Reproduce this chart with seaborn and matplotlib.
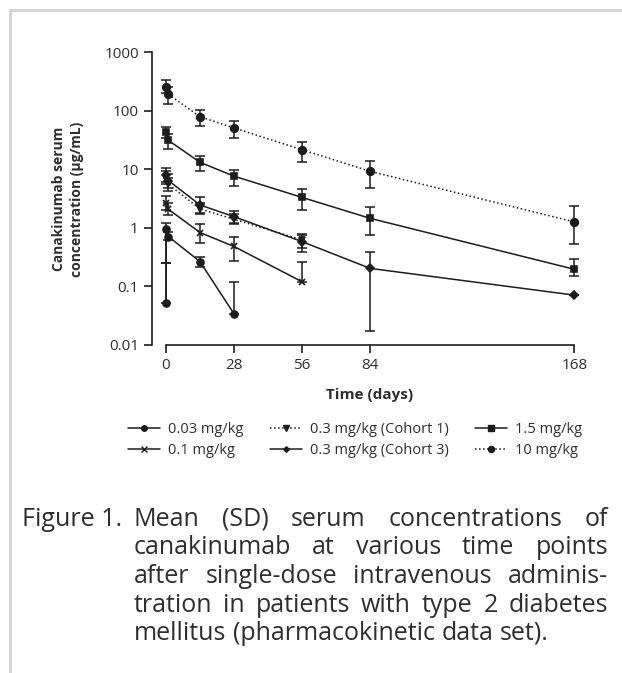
import numpy as np
import pandas as pd
import matplotlib
matplotlib.use('Agg')
import matplotlib.pyplot as plt
from matplotlib.lines import Line2D
from matplotlib.ticker import FixedLocator, FuncFormatter, NullLocator
import seaborn as sns

## values (mean, lower / upper end of the SD bar)
t_003 = [0, 0.1, 1, 14, 28]
c_003 = [0.052, 0.94, 0.71, 0.264, 0.034]
lo_003 = [0.052, 0.25, 0.62, 0.217, 0.034]
hi_003 = [0.25, 1.2, 0.85, 0.32, 0.12]

t_01 = [0, 1, 14, 28, 56]
c_01 = [2.6, 2.07, 0.83, 0.48, 0.12]
lo_01 = [2.0, 1.65, 0.54, 0.275, 0.12]
hi_01 = [3.5, 2.6, 1.15, 0.69, 0.26]

t_03c1 = [0, 1, 14, 28, 56]
c_03c1 = [7.2, 5.5, 2.1, 1.4, 0.62]
lo_03c1 = [5.5, 4.3, 1.7, 1.15, 0.45]
hi_03c1 = [9.5, 7.0, 2.7, 1.75, 0.74]

t_03c3 = [0, 1, 14, 28, 56, 84, 168]
c_03c3 = [8.0, 6.4, 2.45, 1.55, 0.58, 0.203, 0.071]
lo_03c3 = [6.0, 4.8, 1.81, 1.19, 0.39, 0.017, 0.071]
hi_03c3 = [10.4, 8.2, 3.3, 1.94, 0.77, 0.39, 0.071]

t_15 = [0, 1, 14, 28, 56, 84, 168]
c_15 = [42.6, 31.0, 13.1, 7.6, 3.3, 1.45, 0.196]
lo_15 = [34.0, 21.8, 9.4, 5.2, 2.04, 0.74, 0.15]
hi_15 = [52.0, 40.0, 17.0, 9.8, 4.6, 2.24, 0.29]

t_10 = [0, 1, 14, 28, 56, 84, 168]
c_10 = [257, 190, 78.7, 50.5, 21.5, 9.2, 1.26]
lo_10 = [200, 128, 54, 33.7, 13.3, 4.8, 0.52]
hi_10 = [330, 250, 102, 66.5, 29.5, 14.0, 2.35]

labels = ['0.03 mg/kg', '0.1 mg/kg', '0.3 mg/kg (Cohort 1)',
          '0.3 mg/kg (Cohort 3)', '1.5 mg/kg', '10 mg/kg']
x_ticks = [0, 28, 56, 84, 168]
y_ticks = [0.01, 0.1, 1, 10, 100, 1000]

caption_head = 'Figure 1.'
caption_lines = ['Mean (SD) serum concentrations of',
                 'canakinumab at various time points',
                 'after single-dose intravenous adminis-',
                 'tration in patients with type 2 diabetes',
                 'mellitus (pharmacokinetic data set).']

ink = '#1c1c1c'
txt = '#2e2e2e'

sns.set_theme(style='ticks')
plt.rcParams['font.family'] = ['Open Sans', 'DejaVu Sans']

W, H = 622, 673
fig = plt.figure(figsize=(W / 100, H / 100), dpi=100)
ax = fig.add_axes([152 / W, 1 - 345 / H, 432 / W, 293 / H])

## (label, t, c, lo, hi, marker, size, linestyle)
series = [
    (labels[0], t_003, c_003, lo_003, hi_003, 'o', 5.0, '-'),
    (labels[1], t_01, c_01, lo_01, hi_01, 'x', 5.0, '-'),
    (labels[2], t_03c1, c_03c1, lo_03c1, hi_03c1, 'v', 5.0, ':'),
    (labels[3], t_03c3, c_03c3, lo_03c3, hi_03c3, 'D', 3.6, '-'),
    (labels[4], t_15, c_15, lo_15, hi_15, 's', 5.0, '-'),
    (labels[5], t_10, c_10, lo_10, hi_10, 'o', 5.5, ':'),
]

handles = []
for lab, t, c, lo, hi, m, ms, ls in series:
    df = pd.DataFrame({'day': t, 'conc': c})
    sns.lineplot(data=df, x='day', y='conc', ax=ax, color=ink, marker=m,
                 markersize=ms, markeredgecolor=ink, markeredgewidth=1.2,
                 linestyle=ls, linewidth=1.1, sort=False, estimator=None)
    c = np.array(c)
    ax.errorbar(t, c, yerr=[c - np.array(lo), np.array(hi) - c], fmt='none',
                ecolor=ink, elinewidth=1.1, capsize=3.5, capthick=1.1)
    handles.append(Line2D([], [], color=ink, marker=m, markersize=ms * 0.8,
                          linestyle=ls, linewidth=1.1, markeredgecolor=ink))

ax.set_yscale('log')
ax.set_ylim(0.01, 1000)
ax.set_xlim(-5.76, 172)
ax.yaxis.set_major_locator(FixedLocator(y_ticks))
ax.yaxis.set_minor_locator(NullLocator())
ax.yaxis.set_major_formatter(FuncFormatter(lambda v, _: f'{v:g}'))
ax.xaxis.set_major_locator(FixedLocator(x_ticks))
ax.set_xlabel('')
ax.set_ylabel('')
sns.despine(ax=ax)
ax.spines['bottom'].set_bounds(0, 168)
for s in ('left', 'bottom'):
    ax.spines[s].set_linewidth(1.2)
    ax.spines[s].set_color(ink)
ax.tick_params(direction='out', length=5.5, width=1.2, color=ink,
               labelsize=11, labelcolor=txt, pad=4)

fig.text(68 / W, 1 - 199 / H, 'Canakinumab serum\nconcentration (µg/mL)',
         rotation=90, ha='center', va='center', fontsize=10,
         fontweight='bold', color=txt, linespacing=1.35)
fig.text(370 / W, 1 - 395 / H, 'Time (days)', ha='center', va='center',
         fontsize=11, fontweight='bold', color=txt)

fig.legend(handles, labels, ncol=3, loc='center',
           bbox_to_anchor=(355 / W, 1 - 440 / H), frameon=False,
           fontsize=10.5, handlelength=2.2, handletextpad=0.55,
           columnspacing=1.8, labelspacing=0.45, labelcolor=txt)

## caption, justified by hand
cap_fs = 18
renderer = fig.canvas.get_renderer()
probe1 = fig.text(0, 0, 'a a', fontsize=cap_fs)
probe2 = fig.text(0, 0, 'aa', fontsize=cap_fs)
space_w = probe1.get_window_extent(renderer).width - probe2.get_window_extent(renderer).width
probe1.remove()
probe2.remove()

def put_line(line, base_y, x0, x1, justify):
    words = line.split()
    arts = [fig.text(0, 1 - base_y / H, w, fontsize=cap_fs, color=txt,
                     ha='left', va='baseline') for w in words]
    widths = [a.get_window_extent(renderer).width for a in arts]
    gap = (x1 - x0 - sum(widths)) / (len(words) - 1) if justify else space_w
    gap = max(gap, 0.5 * space_w)
    x = x0
    for a, w in zip(arts, widths):
        a.set_x(x / W)
        x += w + gap

base0 = 526
step = 28.5
fig.text(22 / W, 1 - base0 / H, caption_head, fontsize=cap_fs, color=txt,
         ha='left', va='baseline')
for i, line in enumerate(caption_lines):
    put_line(line, base0 + i * step, 134, 608, i < len(caption_lines) - 1)

## light grey frame on top and left
fig.add_artist(Line2D([9.5 / W, 1], [1 - 10 / H, 1 - 10 / H],
                      transform=fig.transFigure, color='#d4d4d4', lw=2.2))
fig.add_artist(Line2D([9.5 / W, 9.5 / W], [0, 1 - 10 / H],
                      transform=fig.transFigure, color='#d4d4d4', lw=2.2))

fig.savefig('out.png', dpi=100)
